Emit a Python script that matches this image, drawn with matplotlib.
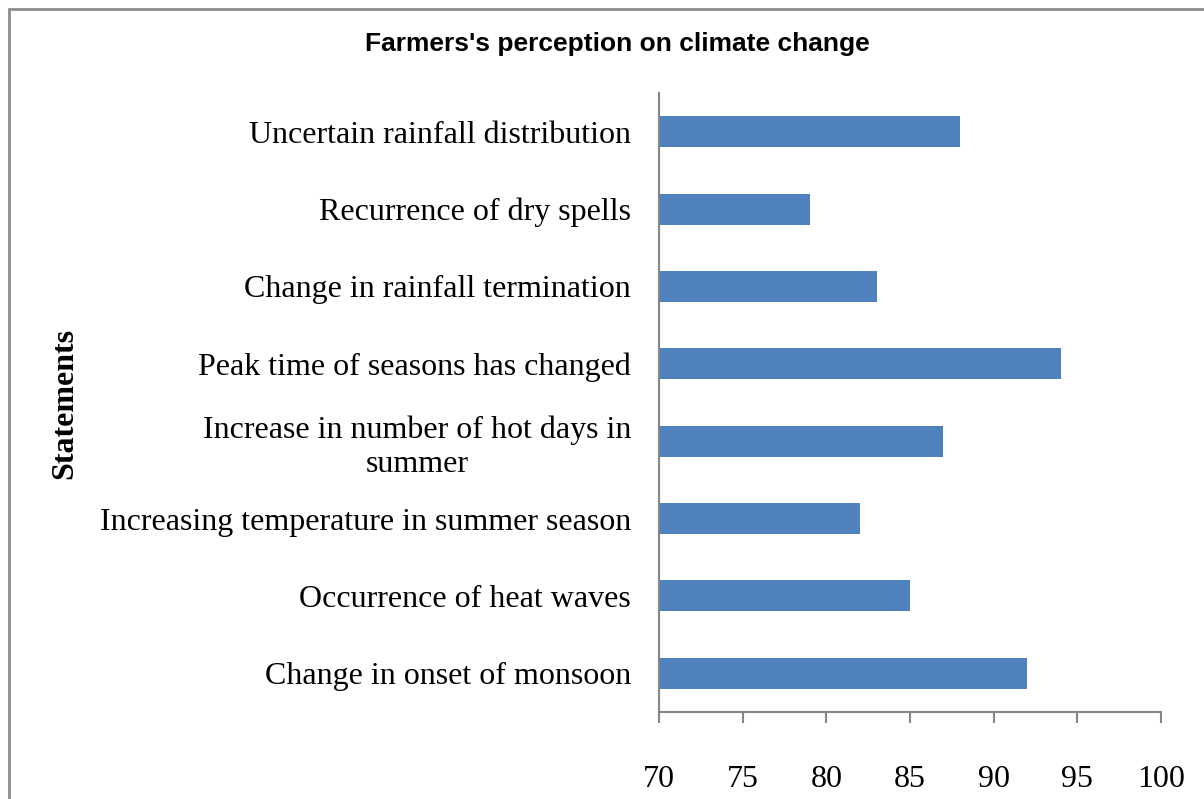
import matplotlib.pyplot as plt
from matplotlib.patches import Rectangle

statements = [
    "Change in onset of monsoon",
    "Occurrence of heat waves",
    "Increasing temperature in summer season",
    "Increase in number of hot days in\nsummer",
    "Peak time of seasons has changed",
    "Change in rainfall termination",
    "Recurrence of dry spells",
    "Uncertain rainfall distribution",
]
percent = [92, 85, 82, 87, 94, 83, 79, 88]
xticks = [70, 75, 80, 85, 90, 95, 100]

W, H = 1204, 799
fig = plt.figure(figsize=(W / 100, H / 100), dpi=100)
ax = fig.add_axes([659 / W, 1 - 712 / H, (1161 - 659) / W, (712 - 93) / H])

ax.barh(range(len(statements)), percent, height=0.4, color='#4F81BD', left=0)
ax.set_xlim(70, 100)
ax.set_ylim(-0.5, len(statements) - 0.5)
ax.set_xticks(xticks)
ax.set_yticks(range(len(statements)))
ax.set_yticklabels(statements, family='Liberation Serif', fontsize=23,
                   multialignment='center', linespacing=1.25)
for lab in ax.get_xticklabels():
    lab.set_family('Liberation Serif')
    lab.set_fontsize(23)

for s in ['top', 'right']:
    ax.spines[s].set_visible(False)
for s in ['left', 'bottom']:
    ax.spines[s].set_color('#868686')
    ax.spines[s].set_linewidth(1.5)
ax.tick_params(axis='x', length=8, width=1.5, color='#868686', pad=30)
ax.tick_params(axis='y', length=0, pad=20)

fig.text(617 / W, 1 - 44 / H, "Farmers's perception on climate change",
         family='Liberation Sans', weight='bold', fontsize=19,
         ha='center', va='center')
fig.text(65 / W, 1 - 403 / H, "Statements", family='Liberation Serif',
         weight='bold', fontsize=23, rotation=90, ha='center', va='center')

fig.patches.append(Rectangle((9 / W, -0.1), 1.2, 1 - 9 / H + 0.1,
                             transform=fig.transFigure, fill=False,
                             edgecolor='#8c8c8c', linewidth=2))

fig.savefig('out.png', dpi=100)
